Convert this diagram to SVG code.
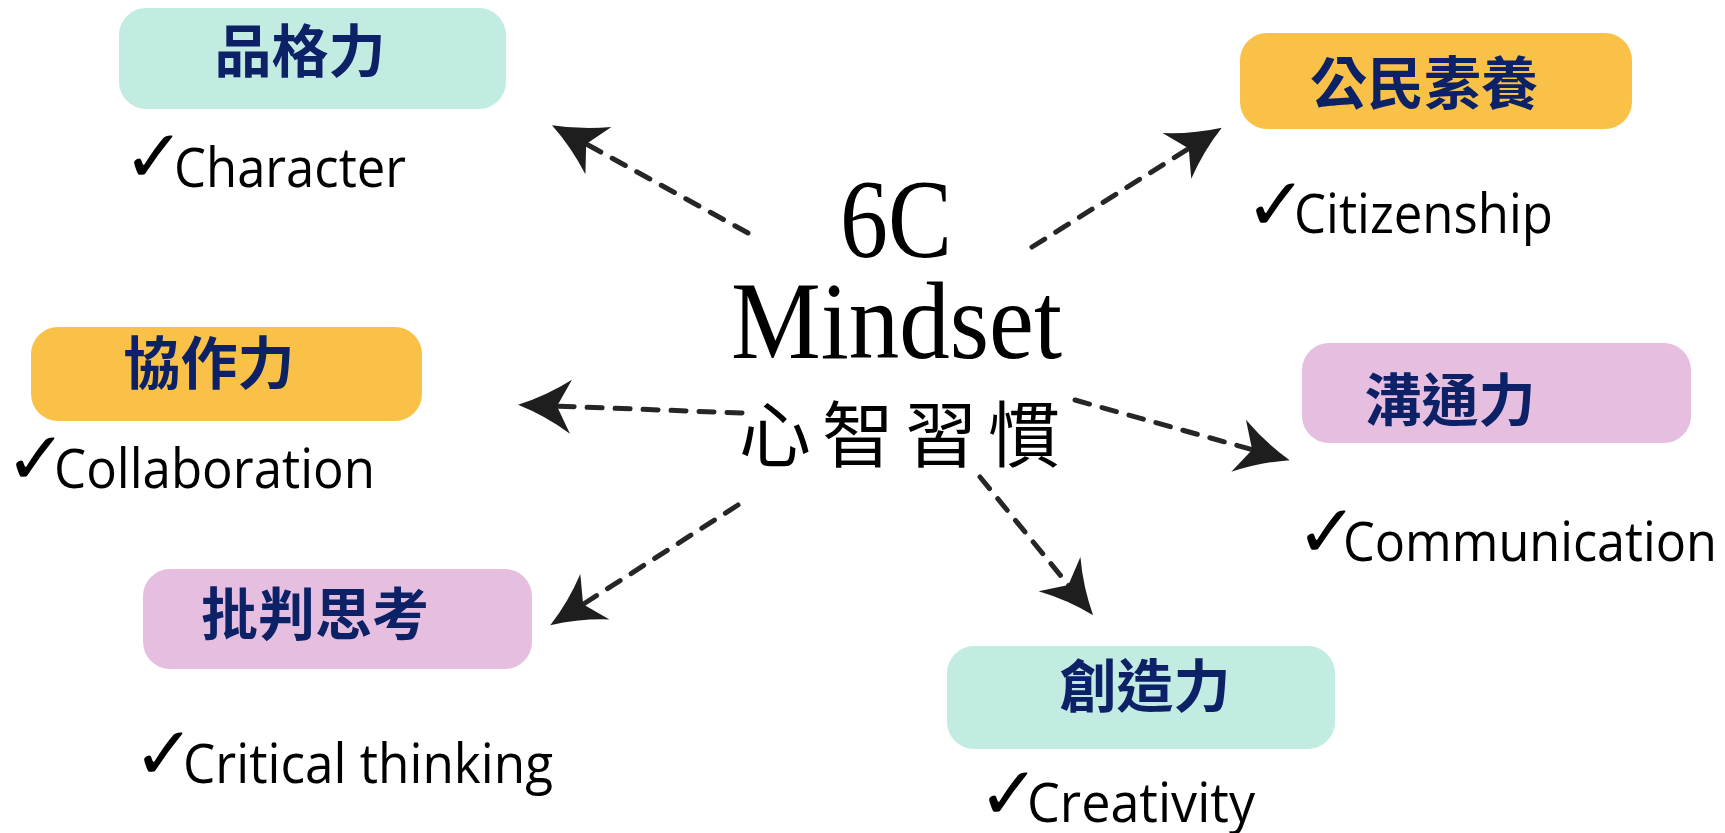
<svg xmlns="http://www.w3.org/2000/svg" width="1725" height="833" viewBox="0 0 1725 833">
<style>
.bg{fill:#ffffff}
.teal{fill:#C2EBE2}
.yellow{fill:#FAC148}
.pink{fill:#E6BFE0}
.zh{font-family:"Noto Sans CJK TC","Noto Sans CJK SC",sans-serif;font-weight:700;font-size:57px;fill:#0D2266;text-anchor:middle}
.en{font-family:"Open Sans","Liberation Sans",sans-serif;font-size:54px;fill:#000}
.chk{font-family:"DejaVu Sans",sans-serif;font-size:74px}
.title{font-family:"Liberation Serif",serif;fill:#000}
.titlezh{font-family:"Noto Sans CJK TC","Noto Sans CJK SC",serif;font-size:72px;letter-spacing:11px;fill:#000}
.conn{fill:none;stroke:#262626;stroke-width:5;stroke-dasharray:15 13;stroke-linecap:round;marker-end:url(#ah)}
</style>
<defs>
<marker id="ah" markerUnits="userSpaceOnUse" viewBox="-60 -32 70 64" markerWidth="70" markerHeight="64" refX="-8" refY="0" orient="auto">
<path d="M0,0 Q-28,-10 -53,-27 L-39,0 L-53,27 Q-28,10 0,0 Z" fill="#1E1E1E"/>
</marker>
</defs>
<rect class="bg" x="0" y="0" width="1725" height="833"/>

<g id="connectors">
<line class="conn" x1="748" y1="233" x2="559" y2="129"/>
<line class="conn" x1="1032" y1="247" x2="1215" y2="132"/>
<line class="conn" x1="742" y1="413" x2="526" y2="405"/>
<line class="conn" x1="1075" y1="400" x2="1282" y2="458"/>
<line class="conn" x1="738" y1="505" x2="557" y2="621"/>
<line class="conn" x1="980" y1="477" x2="1088" y2="609"/>
</g>

<g id="center">
<text class="title" x="840" y="257" font-size="112" textLength="112" lengthAdjust="spacingAndGlyphs">6C</text>
<text class="title" x="731" y="358" font-size="110" textLength="331" lengthAdjust="spacingAndGlyphs">Mindset</text>
<text class="titlezh" x="739" y="461">心智習慣</text>
</g>

<g id="character">
<rect class="teal" x="119" y="8" width="387" height="101" rx="27"/>
<text class="zh" x="300" y="72">品格力</text>
<text class="en"><tspan class="chk" x="123" y="182">✓</tspan><tspan x="174" y="187" textLength="232" lengthAdjust="spacingAndGlyphs">Character</tspan></text>
</g>

<g id="citizenship">
<rect class="yellow" x="1240" y="33" width="392" height="96" rx="27"/>
<text class="zh" x="1424" y="104">公民素養</text>
<text class="en"><tspan class="chk" x="1245" y="230">✓</tspan><tspan x="1294" y="233" textLength="259" lengthAdjust="spacingAndGlyphs">Citizenship</tspan></text>
</g>

<g id="collaboration">
<rect class="yellow" x="31" y="327" width="391" height="94" rx="27"/>
<text class="zh" x="209" y="384">協作力</text>
<text class="en"><tspan class="chk" x="5" y="484">✓</tspan><tspan x="54" y="488" textLength="321" lengthAdjust="spacingAndGlyphs">Collaboration</tspan></text>
</g>

<g id="communication">
<rect class="pink" x="1302" y="343" width="389" height="100" rx="27"/>
<text class="zh" x="1450" y="421">溝通力</text>
<text class="en"><tspan class="chk" x="1296" y="557">✓</tspan><tspan x="1343" y="561" textLength="374" lengthAdjust="spacingAndGlyphs">Communication</tspan></text>
</g>

<g id="critical">
<rect class="pink" x="143" y="569" width="389" height="100" rx="27"/>
<text class="zh" x="315" y="635">批判思考</text>
<text class="en"><tspan class="chk" x="133" y="779">✓</tspan><tspan x="183" y="783" textLength="370" lengthAdjust="spacingAndGlyphs">Critical thinking</tspan></text>
</g>

<g id="creativity">
<rect class="teal" x="947" y="646" width="388" height="103" rx="27"/>
<text class="zh" x="1145" y="707">創造力</text>
<text class="en"><tspan class="chk" x="978" y="819">✓</tspan><tspan x="1027" y="822" textLength="228" lengthAdjust="spacingAndGlyphs">Creativity</tspan></text>
</g>
</svg>
